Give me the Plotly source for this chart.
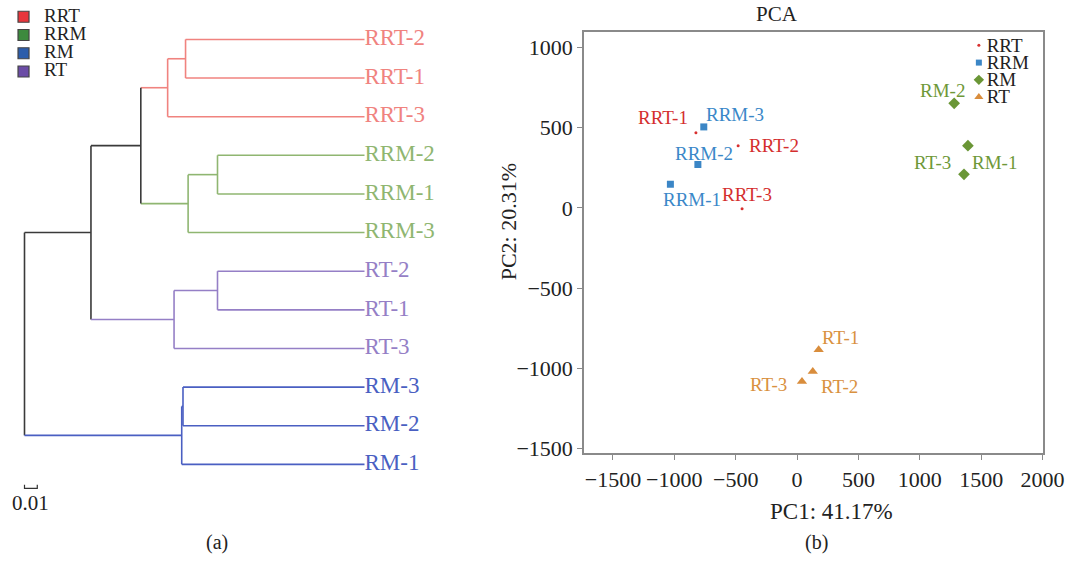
import plotly.graph_objects as go

FIG_W, FIG_H = 1091, 566
FONT = "Liberation Serif"

# ---------------- dendrogram data ----------------
leaf_order = ["RRT-2", "RRT-1", "RRT-3", "RRM-2", "RRM-1", "RRM-3",
              "RT-2", "RT-1", "RT-3", "RM-3", "RM-2", "RM-1"]
merge_left = ["RRT-2", "n1", "RRM-2", "n3", "n2", "RT-2", "n6", "n5", "RM-3", "n9", "n8"]
merge_right = ["RRT-1", "RRT-3", "RRM-1", "RRM-3", "n4", "RT-1", "RT-3", "n7", "RM-2", "RM-1", "n10"]
merge_height = [0.140, 0.154, 0.115, 0.138, 0.175, 0.115, 0.149, 0.214, 0.142, 0.143, 0.266]
merge_name = ["n1", "n2", "n3", "n4", "n5", "n6", "n7", "n8", "n9", "n10", "root"]
scale_bar_len = 0.01

group_line_colors = {"RRT": "#f0837f", "RRM": "#8fb671", "RT": "#957fc6", "RM": "#4a5fc2"}
mixed_color = "#3a3a3a"

legend_a_groups = ["RRT", "RRM", "RM", "RT"]
legend_a_colors = ["#e8363c", "#3d8a3e", "#2c5dab", "#6b4ca6"]

# ---------------- PCA data ----------------
pca_groups = ["RRT", "RRM", "RM", "RT"]
pca_names = {
    "RRT": ["RRT-1", "RRT-2", "RRT-3"],
    "RRM": ["RRM-1", "RRM-2", "RRM-3"],
    "RM": ["RM-1", "RM-2", "RT-3"],
    "RT": ["RT-1", "RT-2", "RT-3"],
}
pc1 = {
    "RRT": [-824, -480, -448],
    "RRM": [-1032, -808, -760],
    "RM": [1392, 1280, 1360],
    "RT": [176, 128, 40],
}
pc2 = {
    "RRT": [467, 387, -6],
    "RRM": [147, 270, 504],
    "RM": [387, 651, 209],
    "RT": [-884, -1020, -1081],
}
# label offsets from the marker (pixels, right / down)
pca_label_dx = {"RRT": [-33, 36, 5], "RRM": [22, 6, 31], "RM": [27, -12, -31], "RT": [22, 27, -33]}
pca_label_dy = {"RRT": [-15, 0, -14], "RRM": [15, -11, -12], "RM": [17, -13, -12], "RT": [-12, 15, 3]}

pca_colors = {"RRT": "#d8302f", "RRM": "#3b86c6", "RM": "#6a9636", "RT": "#d98d3c"}
pca_text_colors = {"RRT": "#d42e2e", "RRM": "#3a87c8", "RM": "#6e9838", "RT": "#d9913f"}
pca_symbols = {"RRT": "circle", "RRM": "square", "RM": "diamond", "RT": "triangle-up"}
pca_sizes = {"RRT": 3, "RRM": 7, "RM": 9, "RT": 9}

xticks = [-1500, -1000, -500, 0, 500, 1000, 1500, 2000]
yticks = [-1500, -1000, -500, 0, 500, 1000]

# ---------------- layout constants (pixels) ----------------
ROOT_PX, LEAF_PX = 25, 372          # dendrogram x extent
TOP_LEAF_PX, BOT_LEAF_PX = 40, 471  # dendrogram y extent
LEFT_W = 545
PCA_L, PCA_R, PCA_T, PCA_B = 596, 1064, 32, 460
PCA_XR = (-1736, 2000)
PCA_YR = (-1530, 1098)


def lin_range(p0, p1, v0, v1, lo, hi):
    s = (v1 - v0) / (p1 - p0)
    return [v0 + (lo - p0) * s, v0 + (hi - p0) * s]


fig = go.Figure()

# ---- dendrogram geometry ----
ypos = {n: i for i, n in enumerate(leaf_order)}
hpos = {n: 0.0 for n in leaf_order}
leaves_of = {n: {n.split("-")[0]} for n in leaf_order}
segs = {}


def add_seg(color, xs, ys):
    segs.setdefault(color, ([], []))
    segs[color][0].extend(list(xs) + [None])
    segs[color][1].extend(list(ys) + [None])


def node_color(n):
    g = leaves_of[n]
    return group_line_colors[next(iter(g))] if len(g) == 1 else mixed_color


for l, r, h, name in zip(merge_left, merge_right, merge_height, merge_name):
    ypos[name] = (ypos[l] + ypos[r]) / 2
    hpos[name] = h
    leaves_of[name] = leaves_of[l] | leaves_of[r]
    add_seg(node_color(name), [h, h], [ypos[l], ypos[r]])
    for c in (l, r):
        add_seg(node_color(c), [h, hpos[c]], [ypos[c], ypos[c]])

for color, (xs, ys) in segs.items():
    fig.add_trace(go.Scatter(x=xs, y=ys, mode="lines", line=dict(color=color, width=1.6),
                             xaxis="x", yaxis="y", showlegend=False, hoverinfo="skip"))

# leaf labels
fig.add_trace(go.Scatter(
    x=[0] * len(leaf_order), y=[ypos[n] for n in leaf_order], mode="text",
    text=leaf_order, textposition="middle right",
    textfont=dict(family=FONT, size=23, color=[group_line_colors[n.split("-")[0]] for n in leaf_order]),
    xaxis="x", yaxis="y", showlegend=False, hoverinfo="skip", cliponaxis=False))

# scale bar (bracket opening upward)
root_h = max(merge_height)
sb_y = len(leaf_order) - 1 + 0.62
fig.add_trace(go.Scatter(
    x=[root_h, root_h, root_h - scale_bar_len, root_h - scale_bar_len],
    y=[sb_y - 0.09, sb_y, sb_y, sb_y - 0.09], mode="lines",
    line=dict(color="#333", width=1.2), xaxis="x", yaxis="y", showlegend=False, hoverinfo="skip"))
fig.add_annotation(x=root_h - scale_bar_len / 2, y=sb_y + 0.03, xref="x", yref="y",
                   text=f"{scale_bar_len}", showarrow=False, xanchor="center", yanchor="top",
                   font=dict(family=FONT, size=21, color="#222"))

# ---- PCA ----
for g in pca_groups:
    fig.add_trace(go.Scatter(
        x=pc1[g], y=pc2[g], mode="markers",
        marker=dict(symbol=pca_symbols[g], size=pca_sizes[g], color=pca_colors[g]),
        xaxis="x2", yaxis="y2", showlegend=False, cliponaxis=False, name=g))
    for name, xv, yv, dx, dy in zip(pca_names[g], pc1[g], pc2[g], pca_label_dx[g], pca_label_dy[g]):
        fig.add_annotation(x=xv, y=yv, xref="x2", yref="y2", text=name, showarrow=False,
                           xanchor="center", yanchor="middle", xshift=dx, yshift=-dy,
                           font=dict(family=FONT, size=19, color=pca_text_colors[g]))

# ---- manual legends on a pixel overlay axis ----
leg_a_y = [17 + 18.5 * i for i in range(len(legend_a_groups))]
fig.add_trace(go.Scatter(
    x=[24] * len(legend_a_groups), y=leg_a_y, mode="markers",
    marker=dict(symbol="square", size=11, color=legend_a_colors, line=dict(color="#444", width=1.2)),
    xaxis="x3", yaxis="y3", showlegend=False, hoverinfo="skip"))
fig.add_trace(go.Scatter(
    x=[45] * len(legend_a_groups), y=leg_a_y, mode="text", text=legend_a_groups,
    textposition="middle right", textfont=dict(family=FONT, size=19, color="#222"),
    xaxis="x3", yaxis="y3", showlegend=False, hoverinfo="skip", cliponaxis=False))

leg_b_y = [46 + 17.5 * i for i in range(len(pca_groups))]
for i, g in enumerate(pca_groups):
    fig.add_trace(go.Scatter(
        x=[999], y=[leg_b_y[i]], mode="markers",
        marker=dict(symbol=pca_symbols[g], size=pca_sizes[g] - 1 if g != "RRT" else 3, color=pca_colors[g]),
        xaxis="x3", yaxis="y3", showlegend=False, hoverinfo="skip"))
fig.add_trace(go.Scatter(
    x=[1007] * len(pca_groups), y=[v + 1.5 for v in leg_b_y], mode="text", text=pca_groups,
    textposition="middle right", textfont=dict(family=FONT, size=19, color="#222"),
    xaxis="x3", yaxis="y3", showlegend=False, hoverinfo="skip", cliponaxis=False))

# ---- axes ----
dend_xr = lin_range(ROOT_PX, LEAF_PX, root_h, 0.0, 0, LEFT_W)
dend_yr = lin_range(TOP_LEAF_PX, BOT_LEAF_PX, 0, len(leaf_order) - 1, 0, FIG_H)
dend_yr = [dend_yr[1], dend_yr[0]]

hidden = dict(visible=False, showgrid=False, zeroline=False)
pca_axis = dict(showline=True, mirror=True, linecolor="#8a8a8a", linewidth=1.5,
                ticks="outside", ticklen=5, tickcolor="#8a8a8a", tickwidth=1.2,
                showgrid=False, zeroline=False,
                tickfont=dict(family=FONT, size=22, color="#222"))

fig.update_layout(
    width=FIG_W, height=FIG_H, margin=dict(l=0, r=0, t=0, b=0),
    paper_bgcolor="white", plot_bgcolor="rgba(0,0,0,0)",
    showlegend=False,
    xaxis=dict(domain=[0, LEFT_W / FIG_W], range=dend_xr, **hidden),
    yaxis=dict(domain=[0, 1], range=dend_yr, **hidden),
    xaxis2=dict(domain=[PCA_L / FIG_W, PCA_R / FIG_W], range=list(PCA_XR), anchor="y2",
                tickvals=xticks, **pca_axis),
    yaxis2=dict(domain=[(FIG_H - PCA_B) / FIG_H, (FIG_H - PCA_T) / FIG_H], range=list(PCA_YR),
                anchor="x2", tickvals=yticks, **pca_axis),
    xaxis3=dict(domain=[0, 1], range=[0, FIG_W], anchor="y3", **hidden),
    yaxis3=dict(domain=[0, 1], range=[FIG_H, 0], anchor="x3", **hidden),
)

ann_font = dict(family=FONT, color="#222")


def add_text(px, py, text, size, angle=0):
    fig.add_annotation(x=px / FIG_W, y=1 - py / FIG_H, xref="paper", yref="paper", text=text,
                       showarrow=False, xanchor="center", yanchor="middle", textangle=angle,
                       font=dict(size=size, **ann_font))


add_text(793, 14, "PCA", 21)
add_text(849, 519, "PC1: 41.17%", 23)
add_text(519, 225, "PC2: 20.31%", 22, -90)
add_text(221, 550, "(a)", 20)
add_text(833, 550, "(b)", 20)

fig.write_html("out.html")
